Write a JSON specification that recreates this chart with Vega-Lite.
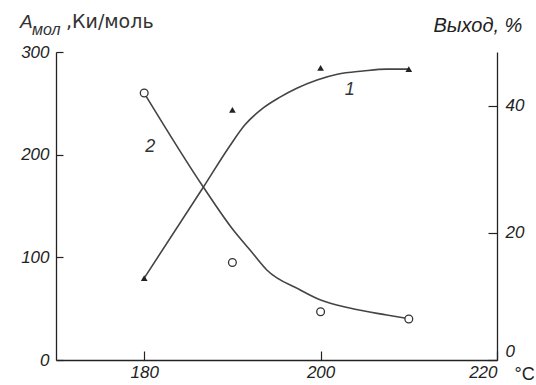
{
  "$schema": "https://vega.github.io/schema/vega-lite/v6.json",
  "autosize": "none",
  "width": 441,
  "height": 308,
  "padding": {"left": 56, "top": 52, "right": 39, "bottom": 25},
  "background": "white",
  "config": {
    "view": {"stroke": null},
    "axis": {"grid": false, "domainColor": "#222", "domainWidth": 1.3, "tickColor": "#222", "tickWidth": 1.2, "labelFont": "Liberation Sans", "labelFontStyle": "italic", "labelFontSize": 17, "labelColor": "#222", "titleColor": "#222"}
  },
  "datasets": {
    "curve2": [
      {"t": 180, "v": 260}, {"t": 186.7, "v": 168.5}, {"t": 190.1, "v": 126.6}, {"t": 192.0, "v": 107.1},
      {"t": 193.9, "v": 87.7}, {"t": 197.7, "v": 68.2}, {"t": 200.0, "v": 58.4}, {"t": 203.3, "v": 50.6},
      {"t": 207.5, "v": 43.8}, {"t": 210.2, "v": 39.9}
    ],
    "circ": [
      {"t": 180, "v": 260}, {"t": 190, "v": 95}, {"t": 200, "v": 47}, {"t": 210, "v": 40}
    ],
    "labels": [
      {"t": 203.3, "v": 263, "label": "1"}, {"t": 180.7, "v": 207, "label": "2"}
    ],
    "corner": [
      {"t": 170, "v": 300}
    ],
    "curve1": [
      {"t": 180, "v": 12.9}, {"t": 186.7, "v": 27.2}, {"t": 189.7, "v": 33.7}, {"t": 191.4, "v": 37.0},
      {"t": 193.5, "v": 39.7}, {"t": 195.4, "v": 41.4}, {"t": 197.3, "v": 42.8}, {"t": 199.6, "v": 44.1},
      {"t": 201.9, "v": 45.0}, {"t": 204.8, "v": 45.5}, {"t": 207.5, "v": 45.8}, {"t": 210.0, "v": 45.8}
    ],
    "tri": [
      {"t": 180, "v": 12.9}, {"t": 190, "v": 39.4}, {"t": 200, "v": 46.0}, {"t": 210, "v": 45.8}
    ]
  },
  "layer": [
    {
      "encoding": {
        "x": {"field": "t", "type": "quantitative", "scale": {"domain": [170, 220], "nice": false, "zero": false},
          "axis": {"values": [180, 200, 220], "tickSize": -9, "labelPadding": 13, "title": "°C", "titleFont": "Liberation Sans", "titleFontSize": 18, "titleFontWeight": "normal", "titleAngle": 0, "titleAlign": "left", "titleBaseline": "alphabetic", "titleX": 458, "titleY": 19}},
        "y": {"field": "v", "type": "quantitative", "scale": {"domain": [0, 300], "nice": false},
          "axis": {"orient": "left", "values": [0, 100, 200, 300], "tickSize": -7, "labelPadding": 14, "title": null}}
      },
      "layer": [
        {"data": {"name": "curve2"}, "mark": {"type": "line", "interpolate": "monotone", "color": "#444", "strokeWidth": 1.6}},
        {"data": {"name": "circ"}, "mark": {"type": "point", "shape": "circle", "size": 60, "filled": true, "fill": "white", "stroke": "#333", "strokeWidth": 1.3, "opacity": 1}},
        {"data": {"name": "labels"}, "mark": {"type": "text", "font": "Liberation Sans", "fontStyle": "italic", "fontSize": 18, "color": "#333"}, "encoding": {"text": {"field": "label"}}},
        {"data": {"name": "corner"}, "mark": {"type": "text", "text": "A", "font": "Liberation Sans", "fontStyle": "italic", "fontSize": 19, "align": "left", "baseline": "alphabetic", "dx": -36, "dy": -24, "color": "#333"}},
        {"data": {"name": "corner"}, "mark": {"type": "text", "text": "мол", "font": "Liberation Sans", "fontStyle": "italic", "fontSize": 16, "align": "left", "baseline": "alphabetic", "dx": -24, "dy": -17, "color": "#333"}},
        {"data": {"name": "corner"}, "mark": {"type": "text", "text": ",Ки/моль", "font": "DejaVu Sans", "fontSize": 19, "align": "left", "baseline": "alphabetic", "dx": 10, "dy": -24, "color": "#333"}}
      ]
    },
    {
      "encoding": {
        "x": {"field": "t", "type": "quantitative", "scale": {"domain": [170, 220], "nice": false, "zero": false}},
        "y": {"field": "v", "type": "quantitative", "scale": {"domain": [0, 48.5], "nice": false},
          "axis": {"orient": "right", "values": [0, 20, 40], "tickSize": -9, "labelPadding": 17,
            "labelBaseline": {"condition": {"test": "datum.value == 0", "value": "bottom"}, "value": "middle"},
            "title": "Выход, %", "titleFont": "Liberation Sans", "titleFontStyle": "italic", "titleFontSize": 20, "titleFontWeight": "normal", "titleAngle": 0, "titleAlign": "left", "titleBaseline": "alphabetic", "titleX": -64, "titleY": -21}}
      },
      "layer": [
        {"data": {"name": "curve1"}, "mark": {"type": "line", "interpolate": "monotone", "color": "#444", "strokeWidth": 1.6}},
        {"data": {"name": "tri"}, "mark": {"type": "point", "shape": "triangle-up", "size": 45, "filled": true, "color": "#222", "opacity": 1}}
      ]
    }
  ],
  "resolve": {"scale": {"y": "independent"}}
}
